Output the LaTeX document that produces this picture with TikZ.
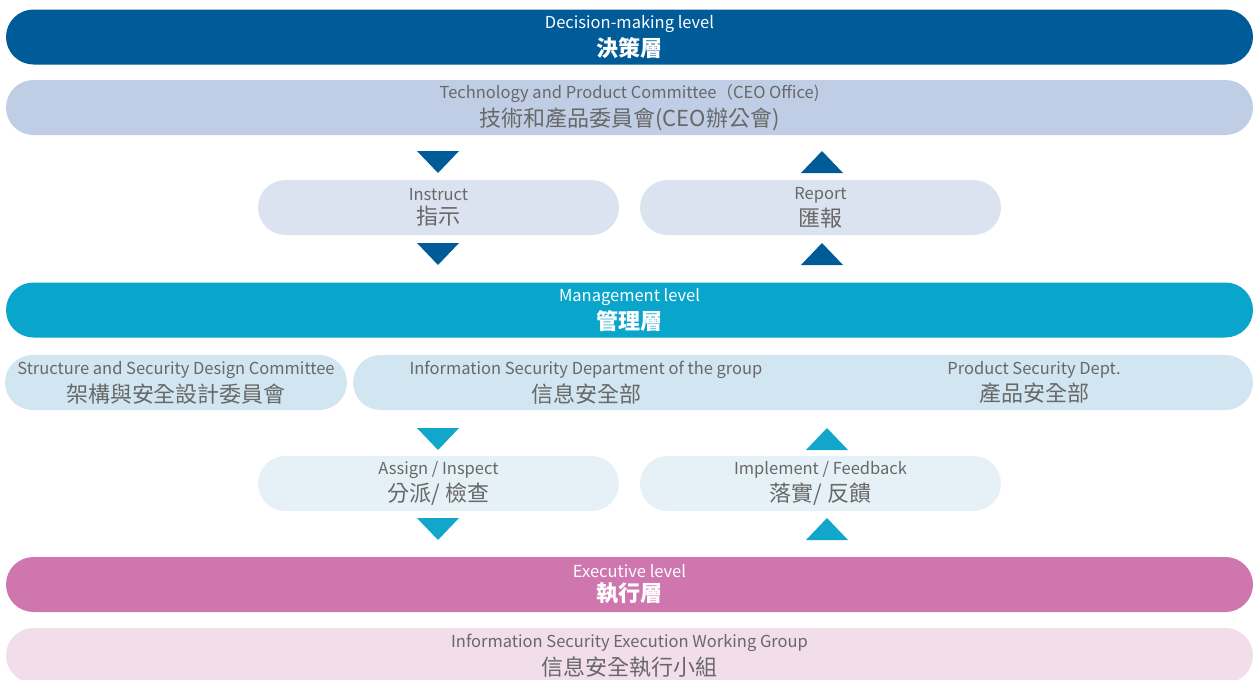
\documentclass[tikz,border=0pt]{standalone}
\usepackage{fontspec}
\setmainfont{Noto Sans CJK TC}
\usetikzlibrary{shapes.misc}
\definecolor{decblue}{HTML}{005B99}
\definecolor{techfill}{HTML}{BFCEE4}
\definecolor{flowblue}{HTML}{DCE3F0}
\definecolor{mgmtcyan}{HTML}{0AA5CB}
\definecolor{rowfill}{HTML}{D1E6F1}
\definecolor{flowcyan}{HTML}{E5F1F7}
\definecolor{triblue}{HTML}{005B99}
\definecolor{tricyan}{HTML}{12A6CB}
\definecolor{execpink}{HTML}{CF76AF}
\definecolor{wgpink}{HTML}{F2DEEB}
\definecolor{txtgray}{HTML}{686868}
\newcommand{\entxt}[1]{{\fontsize{16.5}{18}\selectfont #1}}
\newcommand{\zhtxt}[1]{{\fontsize{22}{24}\selectfont #1}}
\begin{document}
\begin{tikzpicture}[x=1pt,y=-1pt,
  pill/.style={rounded rectangle, minimum height=55pt, inner sep=0pt, draw=none, align=center},
  levelbar/.style={pill, text=white},
  infobar/.style={pill, text=txtgray},
  lbl/.style={inner sep=0pt, align=center, text=txtgray},
  tridown/.pic={\fill (-21,0) -- (21,0) -- (0,22) -- cycle;},
  triup/.pic={\fill (-21,22) -- (21,22) -- (0,0) -- cycle;}]
\useasboundingbox (0,0) rectangle (1254,680);

% Decision-making level
\node[levelbar, fill=decblue, minimum width=1247pt] (dec) at (629.5,37)
  {\entxt{Decision-making level}\\[4pt]\zhtxt{\bfseries 決策層}};
\node[infobar, fill=techfill, minimum width=1247pt] (tech) at (629.5,107.5)
  {\entxt{Technology and Product Committee（CEO Office)}\\[4pt]\zhtxt{技術和產品委員會(CEO辦公會)}};

\node[infobar, fill=flowblue, minimum width=361pt] (instr) at (438.5,207.5)
  {\entxt{Instruct}\\[4pt]\zhtxt{指示}};
\node[infobar, fill=flowblue, minimum width=361pt] (rep) at (820.5,207.5)
  {\entxt{Report}\\[4pt]\zhtxt{匯報}};

\pic[triblue] (t1) at (438,151) {tridown};
\pic[triblue] (t2) at (438,243) {tridown};
\pic[triblue] (t3) at (822,151) {triup};
\pic[triblue] (t4) at (822,243) {triup};

% Management level
\node[levelbar, fill=mgmtcyan, minimum width=1247pt] (mgmt) at (629.5,310)
  {\entxt{Management level}\\[4pt]\zhtxt{\bfseries 管理層}};
\node[infobar, fill=rowfill, minimum width=342pt] (arch) at (176,382.5)
  {\entxt{Structure and Security Design Committee}\\[4pt]\zhtxt{架構與安全設計委員會}};
\node[pill, fill=rowfill, minimum width=900pt] (infobox) at (803,382.5) {};
\node[lbl] (infosec) at (586,382.5)
  {\entxt{Information Security Department of the group}\\[4pt]\zhtxt{信息安全部}};
\node[lbl] (prodsec) at (1034,382.5)
  {\entxt{Product Security Dept.}\\[4pt]\zhtxt{產品安全部}};

\node[infobar, fill=flowcyan, minimum width=361pt] (assign) at (438.5,483.5)
  {\entxt{Assign / Inspect}\\[4pt]\zhtxt{分派/ 檢查}};
\node[infobar, fill=flowcyan, minimum width=361pt] (impl) at (820.5,483.5)
  {\entxt{Implement / Feedback}\\[4pt]\zhtxt{落實/ 反饋}};

\pic[tricyan] (t5) at (438,428) {tridown};
\pic[tricyan] (t6) at (438,518) {tridown};
\pic[tricyan] (t7) at (827,428) {triup};
\pic[tricyan] (t8) at (827,518) {triup};

% Executive level
\node[levelbar, fill=execpink, minimum width=1247pt] (exec) at (629.5,584.5)
  {\entxt{Executive level}\\[4pt]\zhtxt{\bfseries 執行層}};
\node[infobar, fill=wgpink, minimum width=1247pt] (wg) at (629.5,655.5)
  {\entxt{Information Security Execution Working Group}\\[4pt]\zhtxt{信息安全執行小組}};
\end{tikzpicture}
\end{document}
